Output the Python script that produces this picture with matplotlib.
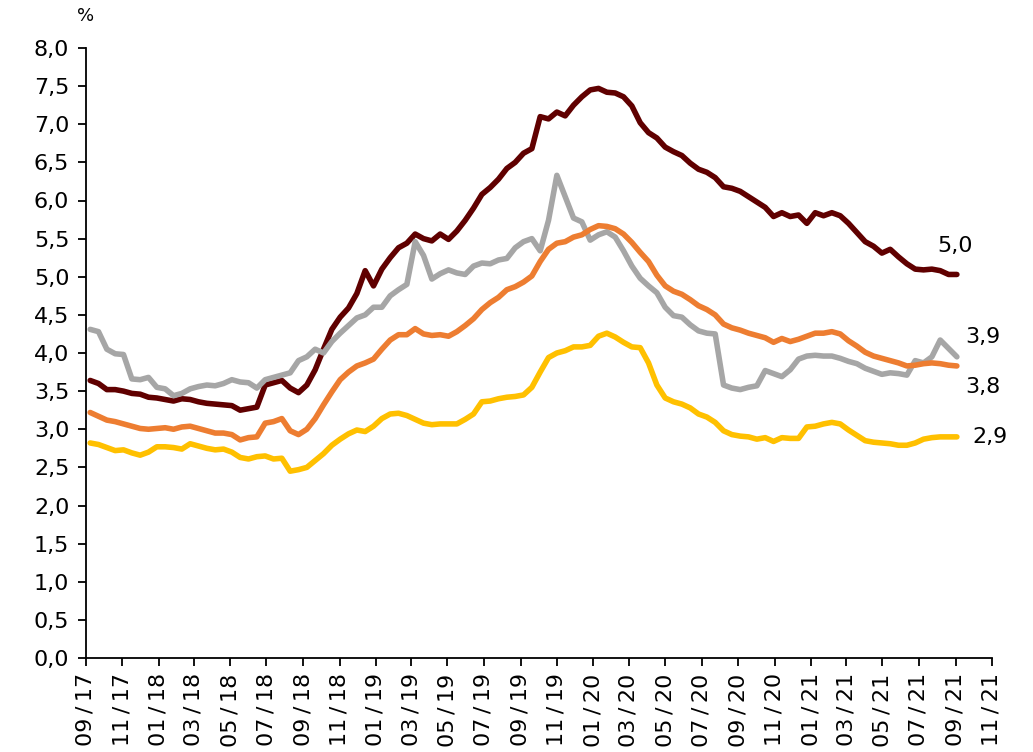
import matplotlib
matplotlib.use("Agg")
import matplotlib.pyplot as plt
import matplotlib.dates as mdates
from matplotlib.ticker import FuncFormatter, MultipleLocator
import pandas as pd

# 14-day observations
dates = pd.date_range("2017-09-08", periods=105, freq="14D")

series_dark = [
    3.64, 3.60, 3.52, 3.52, 3.50, 3.47, 3.46, 3.42, 3.41, 3.39,
    3.37, 3.40, 3.39, 3.36, 3.34, 3.33, 3.32, 3.31, 3.25, 3.27,
    3.29, 3.58, 3.61, 3.64, 3.54, 3.48, 3.58, 3.78, 4.05, 4.31,
    4.47, 4.59, 4.78, 5.08, 4.88, 5.10, 5.25, 5.38, 5.44, 5.56,
    5.50, 5.47, 5.56, 5.49, 5.60, 5.74, 5.90, 6.08, 6.17, 6.28,
    6.42, 6.50, 6.62, 6.68, 7.10, 7.07, 7.16, 7.11, 7.25, 7.36,
    7.45, 7.47, 7.42, 7.41, 7.36, 7.24, 7.02, 6.89, 6.82, 6.70,
    6.64, 6.59, 6.49, 6.41, 6.37, 6.30, 6.18, 6.16, 6.12, 6.05,
    5.98, 5.91, 5.79, 5.84, 5.79, 5.81, 5.70, 5.84, 5.80, 5.84,
    5.80, 5.70, 5.58, 5.46, 5.40, 5.31, 5.36, 5.26, 5.17, 5.10,
    5.09, 5.10, 5.08, 5.03, 5.03,
]

series_gray = [
    4.31, 4.28, 4.05, 3.99, 3.98, 3.66, 3.65, 3.68, 3.55, 3.53,
    3.44, 3.47, 3.53, 3.56, 3.58, 3.57, 3.60, 3.65, 3.62, 3.61,
    3.54, 3.65, 3.68, 3.71, 3.74, 3.90, 3.95, 4.05, 4.00, 4.15,
    4.26, 4.36, 4.46, 4.50, 4.60, 4.60, 4.75, 4.83, 4.90, 5.46,
    5.28, 4.97, 5.04, 5.09, 5.05, 5.03, 5.14, 5.18, 5.17, 5.22,
    5.24, 5.38, 5.46, 5.50, 5.34, 5.74, 6.33, 6.05, 5.77, 5.72,
    5.48, 5.55, 5.59, 5.52, 5.34, 5.14, 4.98, 4.88, 4.79, 4.60,
    4.49, 4.47, 4.37, 4.29, 4.26, 4.25, 3.58, 3.54, 3.52, 3.55,
    3.57, 3.77, 3.73, 3.69, 3.78, 3.92, 3.96, 3.97, 3.96, 3.96,
    3.93, 3.89, 3.86, 3.80, 3.76, 3.72, 3.74, 3.73, 3.71, 3.90,
    3.87, 3.95, 4.17, 4.06, 3.95,
]

series_orange = [
    3.22, 3.17, 3.12, 3.10, 3.07, 3.04, 3.01, 3.00, 3.01, 3.02,
    3.00, 3.03, 3.04, 3.01, 2.98, 2.95, 2.95, 2.93, 2.86, 2.89,
    2.90, 3.08, 3.10, 3.14, 2.98, 2.93, 3.00, 3.14, 3.32, 3.49,
    3.65, 3.75, 3.83, 3.87, 3.92, 4.05, 4.17, 4.24, 4.24, 4.32,
    4.25, 4.23, 4.24, 4.22, 4.28, 4.36, 4.45, 4.57, 4.66, 4.73,
    4.83, 4.87, 4.93, 5.01, 5.20, 5.36, 5.44, 5.46, 5.52, 5.55,
    5.62, 5.67, 5.66, 5.63, 5.56, 5.45, 5.32, 5.20, 5.02, 4.88,
    4.81, 4.77, 4.70, 4.62, 4.57, 4.50, 4.38, 4.33, 4.30, 4.26,
    4.23, 4.20, 4.14, 4.19, 4.15, 4.18, 4.22, 4.26, 4.26, 4.28,
    4.25, 4.16, 4.09, 4.01, 3.96, 3.93, 3.90, 3.87, 3.83, 3.84,
    3.86, 3.87, 3.86, 3.84, 3.83,
]

series_yellow = [
    2.82, 2.80, 2.76, 2.72, 2.73, 2.69, 2.66, 2.70, 2.77, 2.77,
    2.76, 2.74, 2.81, 2.78, 2.75, 2.73, 2.74, 2.70, 2.63, 2.61,
    2.64, 2.65, 2.61, 2.62, 2.45, 2.47, 2.50, 2.59, 2.68, 2.79,
    2.87, 2.94, 2.99, 2.97, 3.04, 3.14, 3.20, 3.21, 3.18, 3.13,
    3.08, 3.06, 3.07, 3.07, 3.07, 3.13, 3.20, 3.36, 3.37, 3.40,
    3.42, 3.43, 3.45, 3.55, 3.75, 3.94, 4.00, 4.03, 4.08, 4.08,
    4.10, 4.22, 4.26, 4.21, 4.14, 4.08, 4.07, 3.87, 3.58, 3.41,
    3.36, 3.33, 3.28, 3.20, 3.16, 3.09, 2.98, 2.93, 2.91, 2.90,
    2.87, 2.89, 2.84, 2.89, 2.88, 2.88, 3.03, 3.04, 3.07, 3.09,
    3.07, 2.99, 2.92, 2.85, 2.83, 2.82, 2.81, 2.79, 2.79, 2.82,
    2.87, 2.89, 2.90, 2.90, 2.90,
]

end_labels = ["5,0", "3,9", "3,8", "2,9"]
colors = ["#600000", "#a6a6a6", "#ed7d31", "#ffc000"]
label_offsets = [(-2, 28), (26, 20), (26, -21), (33, 0)]

fig = plt.figure(figsize=(10.33, 7.52), dpi=100)
ax = fig.add_axes([86 / 1033, 94 / 752, 906 / 1033, 610 / 752])

all_series = [series_dark, series_gray, series_orange, series_yellow]
for vals, c in zip(all_series, colors):
    ax.plot(dates, vals, color=c, lw=4.0, solid_joinstyle="round",
            solid_capstyle="round", zorder=3)

for vals, lab, off in zip(all_series, end_labels, label_offsets):
    ax.annotate(lab, xy=(dates[-1], vals[-1]), xytext=off,
                textcoords="offset pixels", ha="center", va="center",
                fontsize=16, color="black")

ax.set_ylim(0, 8)
ax.yaxis.set_major_locator(MultipleLocator(0.5))
ax.yaxis.set_major_formatter(FuncFormatter(lambda v, p: f"{v:.1f}".replace(".", ",")))

ax.set_xlim(pd.Timestamp("2017-09-01"), pd.Timestamp("2021-11-01"))
ax.xaxis.set_major_locator(mdates.MonthLocator(bymonth=[1, 3, 5, 7, 9, 11]))
ax.xaxis.set_major_formatter(mdates.DateFormatter("%m\u2009/\u2009%y"))
for lbl in ax.get_xticklabels():
    lbl.set_rotation(90)

ax.tick_params(axis="both", direction="out", length=6, width=1.3,
               labelsize=16, colors="black")
ax.tick_params(axis="x", pad=5)
ax.tick_params(axis="y", pad=6)

for s in ["top", "right"]:
    ax.spines[s].set_visible(False)
for s in ["left", "bottom"]:
    ax.spines[s].set_linewidth(1.3)
    ax.spines[s].set_color("black")

fig.text(86 / 1033, 1 - 16 / 752, "%", fontsize=13, ha="center", va="center")

fig.savefig("out.png", dpi=100)
